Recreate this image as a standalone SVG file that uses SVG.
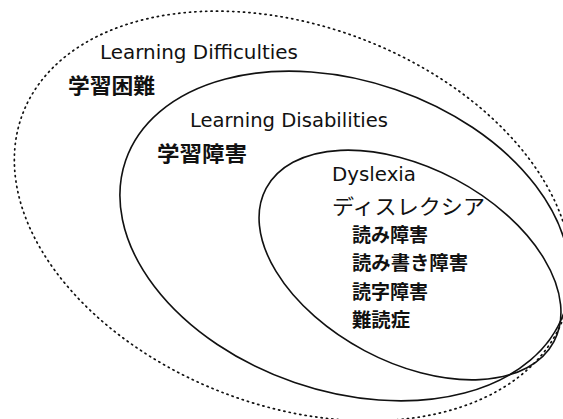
<svg xmlns="http://www.w3.org/2000/svg" width="563" height="419" viewBox="0 0 563 419">
<style>
.bg{fill:#fff}
.solid{fill:none;stroke:#111;stroke-width:1.6}
.dotted{fill:none;stroke:#111;stroke-width:1.7;stroke-dasharray:1.2 4.2;stroke-linecap:round}
.lat{font-family:"DejaVu Sans","Liberation Sans",sans-serif;fill:#111}
.cjk{font-family:"Noto Sans CJK JP","Noto Sans CJK SC",sans-serif;fill:#111}
.b{font-weight:bold}
</style>
<rect class="bg" x="0" y="0" width="563" height="419"/>
<g id="difficulties">
<ellipse class="dotted" cx="293" cy="216" rx="289" ry="190" transform="rotate(20.6 293 216)"/>
<text class="lat" x="100" y="59" font-size="20" textLength="198" lengthAdjust="spacingAndGlyphs">Learning Difficulties</text>
<text class="cjk b" x="68" y="93" font-size="21" textLength="87" lengthAdjust="spacingAndGlyphs">学習困難</text>
</g>
<g id="disabilities">
<ellipse class="solid" cx="345" cy="236" rx="232" ry="155" transform="rotate(19 345 236)"/>
<text class="lat" x="190" y="127" font-size="20" textLength="198" lengthAdjust="spacingAndGlyphs">Learning Disabilities</text>
<text class="cjk b" x="157" y="161" font-size="21" textLength="90" lengthAdjust="spacingAndGlyphs">学習障害</text>
</g>
<g id="dyslexia">
<ellipse class="solid" cx="410" cy="265" rx="163" ry="97" transform="rotate(28 410 265)"/>
<text class="lat" x="332" y="181" font-size="19" textLength="84" lengthAdjust="spacingAndGlyphs">Dyslexia</text>
<text class="cjk" x="332" y="214" font-size="21" textLength="153" lengthAdjust="spacingAndGlyphs">ディスレクシア</text>
<text class="cjk b" x="352" y="242" font-size="19" textLength="76" lengthAdjust="spacingAndGlyphs">読み障害</text>
<text class="cjk b" x="352" y="270" font-size="19" textLength="116" lengthAdjust="spacingAndGlyphs">読み書き障害</text>
<text class="cjk b" x="352" y="299" font-size="19" textLength="76" lengthAdjust="spacingAndGlyphs">読字障害</text>
<text class="cjk b" x="352" y="327" font-size="19" textLength="58" lengthAdjust="spacingAndGlyphs">難読症</text>
</g>
<g id="connectors"/>
</svg>
